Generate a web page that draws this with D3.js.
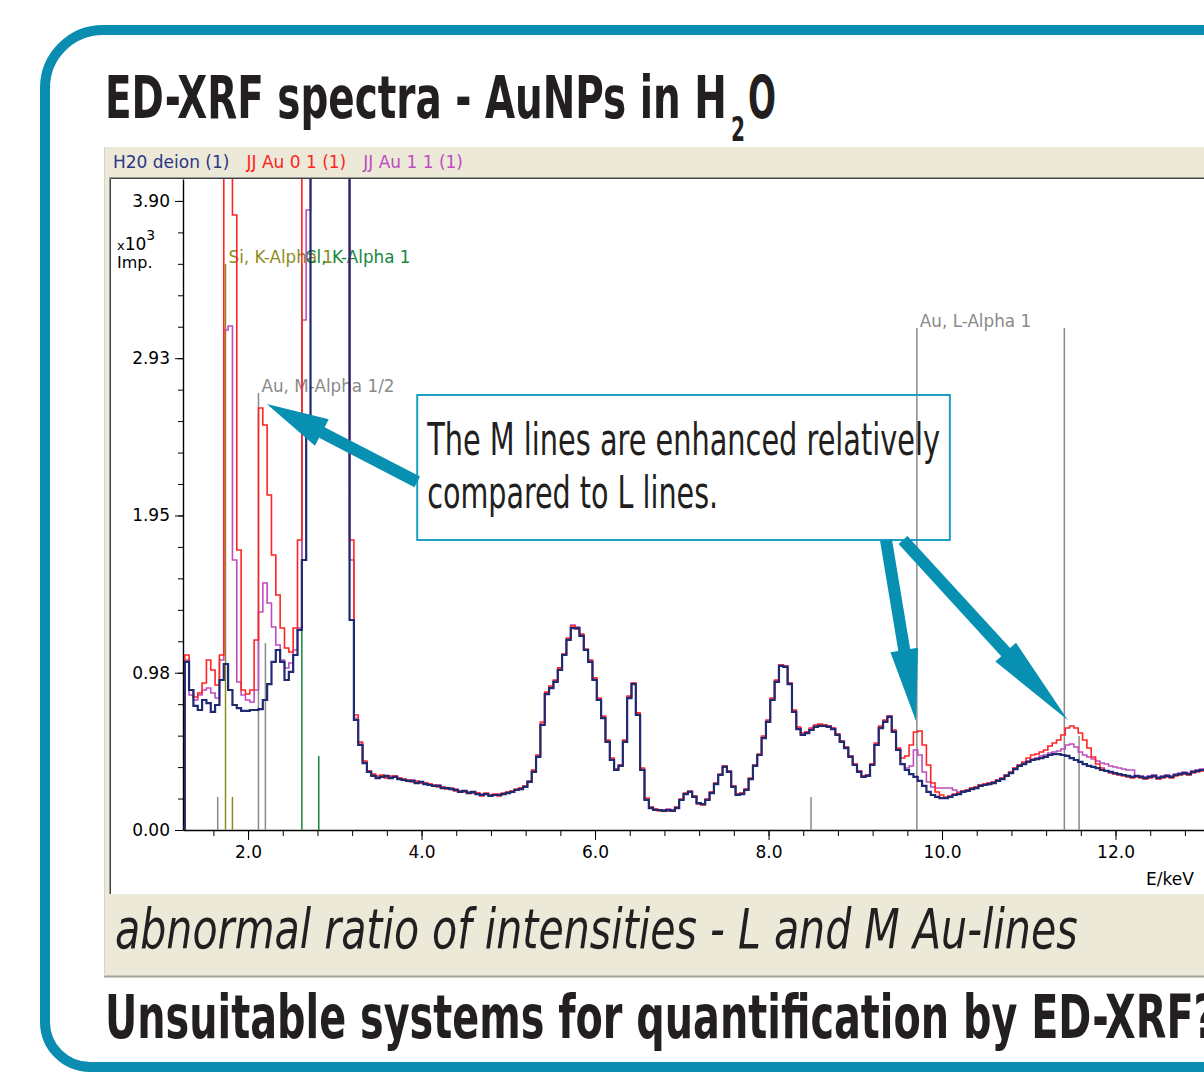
<!DOCTYPE html>
<html>
<head>
<meta charset="utf-8">
<script src="https://cdn.jsdelivr.net/npm/d3@7"></script>
<style>
  body { margin: 0; background: #fff; }
  svg { display: block; }
</style>
</head>
<body>
<div id="chart"></div>
<script>
// channel energies: E0 + i*dE (keV), counts in Imp.
const E0 = 1.27;
const dE = 0.05;

const h2oDeion = [
  1042, 868, 769, 744, 806, 787, 732, 775, 930, 1029,
  868, 775, 756, 738, 738, 744, 744, 750, 806, 905,
  1042, 1116, 1042, 930, 980, 1085, 1240, 1674, 2542, 6000,
  6000, 6000, 6000, 6000, 6000, 6000, 6000, 6000, 1302, 682,
  527, 415, 360, 335, 322, 329, 335, 322, 329, 316,
  310, 304, 304, 291, 298, 285, 279, 273, 273, 260,
  260, 254, 248, 236, 242, 229, 236, 223, 217, 223,
  211, 217, 217, 223, 229, 236, 248, 254, 267, 298,
  360, 453, 651, 843, 880, 918, 992, 1085, 1178, 1252,
  1252, 1203, 1116, 1042, 930, 806, 694, 546, 434, 372,
  397, 546, 818, 905, 713, 372, 186, 136, 124, 124,
  118, 124, 118, 136, 186, 223, 236, 205, 167, 161,
  186, 229, 285, 341, 391, 360, 267, 217, 223, 248,
  316, 397, 465, 570, 670, 806, 918, 1017, 1011, 905,
  732, 626, 589, 601, 620, 639, 645, 645, 639, 626,
  589, 546, 508, 453, 403, 360, 329, 335, 403, 527,
  632, 670, 701, 608, 496, 409, 372, 347, 329, 304,
  273, 236, 217, 205, 198, 198, 205, 217, 223, 236,
  242, 254, 260, 273, 279, 285, 291, 304, 316, 335,
  353, 378, 397, 409, 422, 434, 440, 446, 453, 465,
  471, 471, 465, 459, 446, 434, 422, 409, 397, 391,
  384, 372, 366, 360, 353, 347, 341, 335, 329, 335,
  329, 322, 329, 335, 322, 329, 335, 329, 341, 347,
  353, 347, 360, 366, 372, 378
];

const jjAu01 = [
  1085, 868, 825, 849, 911, 1054, 992, 899, 1085, 6000,
  6000, 3813, 1736, 868, 843, 868, 1178, 2616, 2511, 2077,
  1705, 1457, 1252, 1128, 1104, 1252, 1798, 6000, 6000, 6000,
  6000, 6000, 6000, 6000, 6000, 6000, 6000, 6000, 1798, 713,
  546, 428, 366, 347, 335, 341, 322, 335, 335, 322,
  316, 310, 298, 304, 291, 291, 285, 279, 267, 267,
  254, 260, 242, 242, 236, 236, 229, 229, 211, 229,
  217, 223, 211, 229, 236, 242, 254, 260, 273, 304,
  372, 465, 670, 855, 893, 930, 1005, 1091, 1190, 1265,
  1246, 1215, 1122, 1054, 943, 818, 707, 558, 446, 378,
  403, 558, 830, 911, 726, 384, 198, 142, 130, 118,
  124, 118, 124, 142, 192, 229, 242, 211, 161, 155,
  192, 236, 291, 347, 397, 366, 273, 223, 229, 254,
  322, 403, 471, 583, 682, 818, 930, 1023, 1017, 911,
  744, 639, 601, 608, 632, 651, 657, 651, 645, 632,
  595, 552, 515, 459, 409, 366, 335, 341, 409, 539,
  645, 682, 707, 620, 508, 446, 459, 527, 608, 614,
  527, 403, 291, 236, 217, 205, 211, 223, 229, 242,
  248, 260, 267, 279, 285, 291, 298, 310, 322, 341,
  360, 384, 403, 422, 446, 465, 471, 484, 496, 521,
  539, 558, 589, 632, 645, 632, 601, 558, 508, 453,
  409, 384, 366, 353, 347, 341, 335, 329, 322, 329,
  322, 316, 322, 329, 316, 322, 329, 322, 335, 341,
  347, 341, 353, 360, 366, 372
];

const jjAu11 = [
  1054, 837, 806, 837, 868, 880, 849, 818, 1054, 3100,
  3125, 1674, 918, 837, 806, 794, 868, 1352, 1531, 1407,
  1259, 1147, 1054, 1004, 1035, 1116, 1252, 3162, 3844, 6000,
  6000, 6000, 6000, 6000, 6000, 6000, 6000, 6000, 1674, 694,
  533, 422, 366, 341, 329, 335, 329, 329, 335, 322,
  316, 304, 310, 298, 291, 291, 285, 273, 279, 267,
  260, 254, 254, 242, 242, 236, 229, 229, 223, 223,
  217, 217, 223, 223, 236, 236, 248, 260, 273, 298,
  366, 459, 657, 849, 886, 924, 998, 1091, 1184, 1271,
  1259, 1209, 1116, 1048, 936, 812, 701, 552, 440, 378,
  403, 552, 824, 911, 719, 378, 192, 142, 130, 124,
  124, 130, 124, 142, 186, 223, 236, 211, 167, 161,
  192, 236, 291, 341, 397, 366, 273, 223, 229, 254,
  316, 403, 465, 577, 676, 812, 924, 1023, 1017, 911,
  738, 632, 595, 608, 626, 645, 651, 651, 645, 632,
  595, 552, 515, 459, 409, 366, 335, 341, 409, 533,
  639, 676, 707, 614, 502, 409, 384, 397, 496, 465,
  360, 298, 267, 260, 260, 260, 260, 248, 236, 242,
  248, 260, 267, 279, 285, 291, 298, 310, 322, 341,
  360, 384, 403, 415, 428, 440, 446, 459, 465, 477,
  484, 490, 502, 527, 533, 515, 484, 465, 453, 440,
  428, 415, 409, 397, 391, 384, 378, 372, 372, 335,
  335, 329, 335, 341, 329, 335, 341, 335, 347, 353,
  360, 353, 366, 372, 378, 384
];

const seriesNames = ["H20 deion (1)", "JJ Au 0 1 (1)", "JJ Au 1 1 (1)"];

const yMajorTicks = [0, 975, 1950, 2925, 3900];
const xMajorTicks = [2, 4, 6, 8, 10, 12];

// element line markers (keV, height in Imp.)
const lineEnergies = [1.65, 1.74, 1.82, 2.12, 2.20, 2.62, 2.815, 8.49, 9.71, 11.41, 11.58];
const lineHeights  = [205, 3509, 205, 2709, 1159, 3509, 459, 205, 3112, 3112, 583];
const lineElements = ["Au", "Si", "Si", "Au", "Au", "Cl", "Cl", "Au", "Au", "Au", "Au"];
const lineLabels   = ["", "Si, K-Alpha 1", "", "Au, M-Alpha 1/2", "", "Cl, K-Alpha 1", "", "", "Au, L-Alpha 1", "", ""];

const titleText = "ED-XRF spectra - AuNPs in H";
const noteLines = ["The M lines are enhanced relatively", "compared to L lines."];
const captionText = "abnormal ratio of intensities - L and M Au-lines";
const footerText = "Unsuitable systems for quantification by ED-XRF?";


class SpectrumChart {
  constructor(container, width, height) {
    this.container = container;
    this.width = width;
    this.height = height;
    this.plot = { left: 183, right: 1204, top: 179, bottom: 830 };
    this.colours = ["#1f2a70", "#ff2424", "#c04cc0"];
    this.elementColour = { Au: "#8a8a8a", Si: "#8c8c1e", Cl: "#14883a" };
    this.uiFont = "'DejaVu Sans',Verdana,sans-serif";
    this.draw();
  }

  draw() {
    this.svg = d3.select(this.container).append("svg")
      .attr("width", this.width)
      .attr("height", this.height);

    this.drawFrame();
    this.drawPanel();

    this.x = d3.scaleLinear().domain([1.25, 13.02]).range([this.plot.left, this.plot.right]);
    this.y = d3.scaleLinear().domain([0, 4036]).range([this.plot.bottom, this.plot.top]);

    this.svg.append("clipPath").attr("id", "plotclip")
      .append("rect")
        .attr("x", this.plot.left + 1)
        .attr("y", this.plot.top)
        .attr("width", this.plot.right - this.plot.left)
        .attr("height", this.plot.bottom - this.plot.top);

    this.createAxes();
    this.drawMarkers();
    this.plotLines();
    this.drawNote();
  }

  // condensed poster text: squeeze the natural width to the wanted width
  condensed(parent, x, y, size, str, len) {
    var t = parent.append("text")
      .attr("font-family", "'DejaVu Sans Condensed','Liberation Sans Narrow',Roboto,sans-serif")
      .attr("font-size", size)
      .attr("fill", "#231f20")
      .text(str);
    var w = t.node().getComputedTextLength();
    t.attr("transform", "translate(" + x + "," + y + ") scale(" + (len / w) + ",1)");
    return t;
  }

  drawFrame() {
    this.svg.append("path")
      .attr("d", "M1220,30 H103 A58,58 0 0 0 45,88 V1022 A45,45 0 0 0 90,1067 H1220")
      .attr("fill", "none")
      .attr("stroke", "#0a8db1")
      .attr("stroke-width", 10);

    var t = this.svg.append("g").attr("font-weight", "bold");
    this.condensed(t, 105, 118, 58, titleText, 622);
    this.condensed(t, 731, 141, 34, "2", 14);
    this.condensed(t, 748, 118, 58, "O", 28);
  }

  drawPanel() {
    var s = this.svg;
    s.append("rect").attr("x", 104).attr("y", 147).attr("width", 1120).attr("height", 829)
      .attr("fill", "#ece9d8");
    s.append("line").attr("x1", 104).attr("x2", 1220).attr("y1", 976.5).attr("y2", 976.5)
      .attr("stroke", "#a4a39a").attr("stroke-width", 2);
    s.append("line").attr("x1", 104.5).attr("x2", 104.5).attr("y1", 147).attr("y2", 976)
      .attr("stroke", "#d8d5c6");

    // white plot window with sunken edge
    s.append("rect").attr("x", 109).attr("y", 177).attr("width", 1111).attr("height", 717)
      .attr("fill", "#fff");
    s.append("path").attr("d", "M109.5,894 V177.5 H1220")
      .attr("fill", "none").attr("stroke", "#9a9a9a");
    s.append("path").attr("d", "M110.5,894 V178.5 H1220")
      .attr("fill", "none").attr("stroke", "#404040");

    // legend
    var lx = 113;
    var colours = this.colours, font = this.uiFont;
    seriesNames.forEach(function(name, i) {
      var t = s.append("text")
        .attr("x", lx).attr("y", 168)
        .attr("font-family", font)
        .attr("font-size", 17)
        .attr("fill", i == 0 ? "#2b3686" : colours[i])
        .text(name);
      lx += t.node().getComputedTextLength() + 17;
    });

    // caption and footer
    var cap = s.append("g").attr("font-style", "italic");
    this.condensed(cap, 115, 948, 56, captionText, 963);
    var foot = s.append("g").attr("font-weight", "bold");
    this.condensed(foot, 105, 1038, 60, footerText, 1112);
  }

  createAxes() {
    var x = this.x, y = this.y, g = this.svg.append("g");
    var font = this.uiFont;

    var yMinor = d3.axisLeft(y).tickValues(d3.range(0, 4036, 195)).tickSize(5).tickFormat("");
    var yMajor = d3.axisLeft(y).tickValues(yMajorTicks).tickSize(8).tickPadding(5).tickSizeOuter(0)
      .tickFormat(function(d) { return (Math.round(d / 10) / 100).toFixed(2); });
    var xMinor = d3.axisBottom(x).tickValues(d3.range(1.6, 13.0, 0.4)).tickSize(6).tickFormat("");
    var xMajor = d3.axisBottom(x).tickValues(xMajorTicks).tickSize(10).tickPadding(6).tickSizeOuter(0)
      .tickFormat(d3.format(".1f"));

    var ym = g.append("g").attr("transform", "translate(" + this.plot.left + ",0)").call(yMinor);
    ym.select(".domain").remove();
    var yM = g.append("g").attr("transform", "translate(" + this.plot.left + ",0)").call(yMajor);
    var xm = g.append("g").attr("transform", "translate(0," + this.plot.bottom + ")").call(xMinor);
    xm.select(".domain").remove();
    var xM = g.append("g").attr("transform", "translate(0," + this.plot.bottom + ")").call(xMajor);

    g.selectAll("text").attr("font-family", font).attr("font-size", 17).attr("fill", "#000");
    g.selectAll("line, path").attr("stroke", "#000");
    yM.select(".domain").attr("stroke-width", 1.4);
    xM.select(".domain").attr("stroke-width", 1.4);

    g.append("text").attr("x", 1146).attr("y", 885)
      .attr("font-family", font).attr("font-size", 17).text("E/keV");

    var u = g.append("text").attr("x", 117).attr("y", 250)
      .attr("font-family", font).attr("font-size", 17);
    u.append("tspan").attr("font-size", 13).text("x");
    u.append("tspan").text("10");
    u.append("tspan").attr("font-size", 14).attr("dy", -10).text("3");
    g.append("text").attr("x", 117).attr("y", 268)
      .attr("font-family", font).attr("font-size", 16).text("Imp.");
  }

  drawMarkers() {
    var x = this.x, y = this.y, col = this.elementColour, font = this.uiFont;
    var g = this.svg.append("g");
    lineEnergies.forEach(function(e, i) {
      g.append("line")
        .attr("x1", x(e)).attr("x2", x(e))
        .attr("y1", y(0)).attr("y2", y(lineHeights[i]))
        .attr("stroke", col[lineElements[i]])
        .attr("stroke-width", 1.5);
      if (lineLabels[i] != "") {
        g.append("text")
          .attr("x", x(e) + 3).attr("y", y(lineHeights[i]) - 1)
          .attr("font-family", font)
          .attr("font-size", 16.8)
          .attr("fill", col[lineElements[i]])
          .text(lineLabels[i]);
      }
    });
  }

  plotLines() {
    var x = this.x, y = this.y;
    var line = d3.line()
      .x(d => x(d.e))
      .y(d => y(d.v))
      .curve(d3.curveStepAfter);
    var g = this.svg.append("g").attr("clip-path", "url(#plotclip)");
    var all = [h2oDeion, jjAu01, jjAu11];
    var order = [2, 1, 0];
    var widths = [2.2, 1.6, 1.6];
    var colours = this.colours;
    order.forEach(function(k) {
      var pts = [{ e: E0, v: 0 }].concat(all[k].map((v, i) => ({ e: E0 + i * dE, v: v })));
      g.append("path")
        .attr("d", line(pts))
        .attr("fill", "none")
        .attr("stroke", colours[k])
        .attr("stroke-width", widths[k])
        .attr("stroke-linejoin", "miter");
    });
  }

  arrowPoints(x1, y1, x2, y2, shaft, headLen, headW) {
    var dx = x2 - x1, dy = y2 - y1, L = Math.hypot(dx, dy);
    var ux = dx / L, uy = dy / L, nx = -uy, ny = ux;
    var bx = x2 - ux * headLen, by = y2 - uy * headLen;
    return [
      [x1 + nx * shaft / 2, y1 + ny * shaft / 2],
      [bx + nx * shaft / 2, by + ny * shaft / 2],
      [bx + nx * headW / 2, by + ny * headW / 2],
      [x2, y2],
      [bx - nx * headW / 2, by - ny * headW / 2],
      [bx - nx * shaft / 2, by - ny * shaft / 2],
      [x1 - nx * shaft / 2, y1 - ny * shaft / 2]
    ];
  }

  drawNote() {
    var x = this.x, y = this.y, s = this.svg;
    var box = { e0: 3.95, e1: 10.09, top: 2697, bottom: 1798 };
    var bx = x(box.e0), by = y(box.top), bw = x(box.e1) - x(box.e0), bh = y(box.bottom) - y(box.top);

    s.append("rect").attr("x", bx).attr("y", by).attr("width", bw).attr("height", bh)
      .attr("fill", "none").attr("stroke", "#1b9fc0").attr("stroke-width", 2);

    var g = s.append("g");
    this.condensed(g, bx + 10, by + 60, 44, noteLines[0], 513);
    this.condensed(g, bx + 10, by + 113, 44, noteLines[1], 291);

    // arrows: from box edge to peak (keV, Imp.)
    var arrows = [
      { e0: 3.95, c0: 2158, e1: 2.216, c1: 2641, head: 62, hw: 30 },
      { e0: 9.354, c0: 1798, e1: 9.70, c1: 676, head: 72, hw: 28 },
      { e0: 9.55, c0: 1798, e1: 11.45, c1: 682, head: 92, hw: 28 }
    ];
    var self = this;
    arrows.forEach(function(a) {
      var p = self.arrowPoints(x(a.e0), y(a.c0), x(a.e1), y(a.c1), 12, a.head, a.hw);
      s.append("polygon")
        .attr("points", p.map(q => q.join(",")).join(" "))
        .attr("fill", "#0790b2");
    });
  }
}

new SpectrumChart("#chart", 1204, 1073);
</script>
</body>
</html>
